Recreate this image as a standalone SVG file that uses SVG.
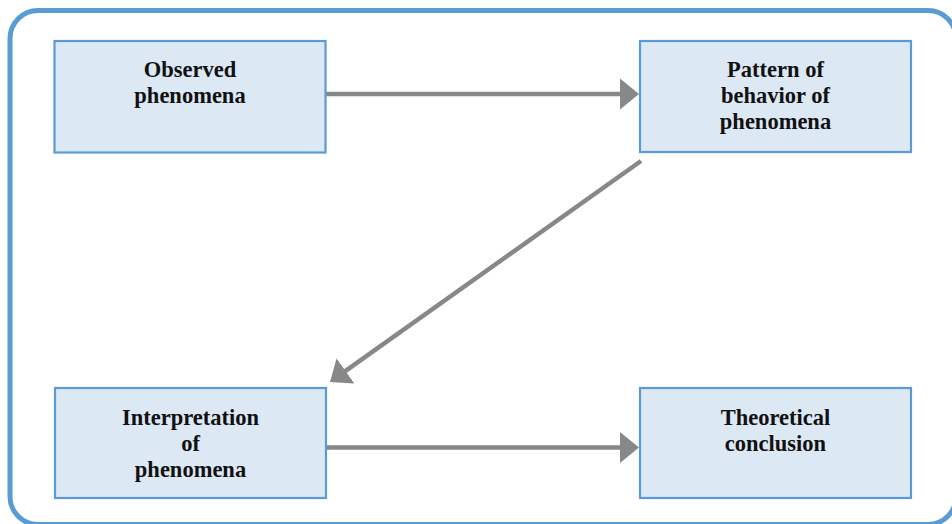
<svg xmlns="http://www.w3.org/2000/svg" width="952" height="524" viewBox="0 0 952 524">
  <style>
    .frame { fill: #ffffff; stroke: #5b9bd5; stroke-width: 5; }
    .box { fill: #dde8f5; stroke: #5b9bd5; stroke-width: 2.2; }
    .label { font-family: "Liberation Serif", "Times New Roman", serif; font-weight: bold; font-size: 22.5px; fill: #111111; text-anchor: middle; }
    .flow { stroke: #888888; stroke-width: 4.5; fill: none; marker-end: url(#head); }
  </style>
  <defs>
    <marker id="head" markerUnits="userSpaceOnUse" viewBox="0 0 19 31" markerWidth="19" markerHeight="31" refX="9" refY="15.5" orient="auto">
      <path d="M0,0 L19,15.5 L0,31 z" fill="#888888"/>
    </marker>
  </defs>

  <!-- outer frame, running slightly past the right and bottom edges -->
  <rect class="frame" x="10" y="10.5" width="946" height="514" rx="28" ry="28"/>

  <!-- connectors -->
  <g id="connectors">
    <line class="flow" x1="326" y1="94" x2="629" y2="94"/>
    <line class="flow" x1="641" y1="161" x2="338.2" y2="376.2"/>
    <line class="flow" x1="326" y1="447.5" x2="629" y2="447.5"/>
  </g>

  <!-- nodes -->
  <g id="observed">
    <rect class="box" x="54.5" y="41" width="271" height="111.5"/>
    <text class="label" x="190" y="77">Observed</text>
    <text class="label" x="190" y="103">phenomena</text>
  </g>

  <g id="pattern">
    <rect class="box" x="640" y="41" width="271" height="111"/>
    <text class="label" x="775.5" y="77">Pattern of</text>
    <text class="label" x="775.5" y="103">behavior of</text>
    <text class="label" x="775.5" y="128.5">phenomena</text>
  </g>

  <g id="interpretation">
    <rect class="box" x="55" y="388" width="271" height="110"/>
    <text class="label" x="190.5" y="425">Interpretation</text>
    <text class="label" x="190.5" y="451">of</text>
    <text class="label" x="190.5" y="477">phenomena</text>
  </g>

  <g id="conclusion">
    <rect class="box" x="640" y="388" width="271" height="110"/>
    <text class="label" x="775.5" y="425">Theoretical</text>
    <text class="label" x="775.5" y="450.5">conclusion</text>
  </g>
</svg>
